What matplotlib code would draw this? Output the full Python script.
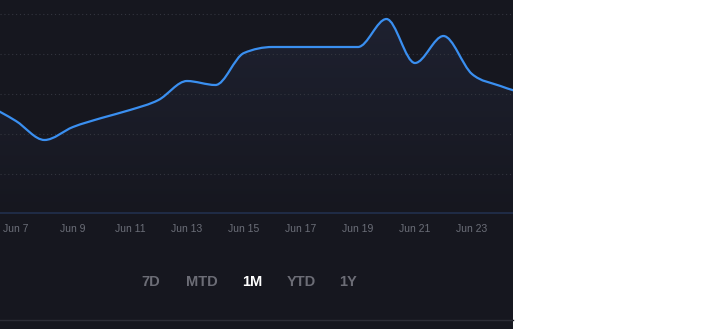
import numpy as np
import matplotlib
matplotlib.use("Agg")
import matplotlib.pyplot as plt
from matplotlib.path import Path
from matplotlib.patches import PathPatch, Rectangle
from matplotlib.colors import LinearSegmentedColormap

# daily values, Jun 6 .. Jun 25
days = np.arange(6, 26)
values = [27.25, 23.25, 18.5, 21.75, 24.0, 26.0, 28.5, 33.25, 32.25, 40.25,
          41.75, 41.75, 41.75, 41.75, 48.75, 37.75, 44.5, 35.0, 32.0, 29.75]
tick_days = [7, 9, 11, 13, 15, 17, 19, 21, 23]
tick_labels = ["Jun %d" % d for d in tick_days]
ranges = ["7D", "MTD", "1M", "YTD", "1Y"]
active = "1M"

BG = "#16171f"
LINE = "#3a8ff0"
GRID = "#33353f"
LABEL = "#6b6e78"


def monotone_tangents(x, y):
    # same slopes as d3.curveMonotoneX
    x = np.asarray(x, float)
    y = np.asarray(y, float)
    h = np.diff(x)
    s = np.diff(y) / h
    t = np.zeros_like(y)
    for i in range(1, len(y) - 1):
        p = (s[i - 1] * h[i] + s[i] * h[i - 1]) / (h[i - 1] + h[i])
        t[i] = (np.sign(s[i - 1]) + np.sign(s[i])) * min(abs(s[i - 1]), abs(s[i]), 0.5 * abs(p))
    t[0] = (3 * s[0] - t[1]) / 2
    t[-1] = (3 * s[-1] - t[-2]) / 2
    return t


def curve_path(x, y, close_to=None):
    t = monotone_tangents(x, y)
    verts = [(x[0], y[0])]
    codes = [Path.MOVETO]
    for i in range(len(x) - 1):
        h = x[i + 1] - x[i]
        verts += [(x[i] + h / 3, y[i] + h * t[i] / 3),
                  (x[i + 1] - h / 3, y[i + 1] - h * t[i + 1] / 3),
                  (x[i + 1], y[i + 1])]
        codes += [Path.CURVE4] * 3
    if close_to is not None:
        verts += [(x[-1], close_to), (x[0], close_to), (x[0], y[0])]
        codes += [Path.LINETO, Path.LINETO, Path.CLOSEPOLY]
    return Path(verts, codes)


fig = plt.figure(figsize=(7.22, 3.29), dpi=100)
fig.patch.set_facecolor("white")

W, H = 722, 329
panel_w = 513
fig.add_artist(Rectangle((0, 0), panel_w / W, 1, transform=fig.transFigure,
                         facecolor=BG, edgecolor="none", zorder=-5))

ax = fig.add_axes([0, (H - 214) / H, panel_w / W, 214 / H], zorder=2)
ax.set_facecolor(BG)
for sp in ax.spines.values():
    sp.set_visible(False)

x0, x1 = 6.44, 6.44 + panel_w / 28.5
ax.set_xlim(x0, x1)
ax.set_ylim(0, 53.5)

# soft gradient under the line
fill = PathPatch(curve_path(days, values, close_to=0), facecolor="none",
                 edgecolor="none")
ax.add_patch(fill)
grad = LinearSegmentedColormap.from_list("g", [BG, "#1e2130"])
im = ax.imshow(np.linspace(0, 1, 256).reshape(-1, 1), cmap=grad, aspect="auto",
               origin="lower", extent=[x0, x1, 0, max(values)], zorder=0.5)
im.set_clip_path(fill)

for g in [10, 20, 30, 40, 50]:
    ax.axhline(g, color=GRID, lw=0.8, ls=(0, (1, 2.5)), zorder=1)
ax.axhline(0.15, color="#22304d", lw=1.2, zorder=1)

ax.add_patch(PathPatch(curve_path(days, values), facecolor="none", edgecolor=LINE,
                       lw=1.6, zorder=3, capstyle="round"))
ax.set_xlim(x0, x1)
ax.set_ylim(0, 53.5)

ax.set_xticks(tick_days)
ax.set_xticklabels(tick_labels, family="Liberation Sans")
ax.set_yticks([])
ax.tick_params(axis="x", length=0, pad=7, labelsize=7.5, labelcolor=LABEL)

# range selector
xs = [151, 202, 252, 301, 348]
for lbl, x in zip(ranges, xs):
    on = lbl == active
    fig.text(x / W, 1 - 282 / H, lbl, ha="center", va="center", fontsize=10.5,
             fontweight="bold", color="white" if on else "#6c6d76",
             family="Liberation Sans", zorder=3)

fig.add_artist(plt.Line2D([0, panel_w / W], [1 - 320 / H] * 2,
                          transform=fig.transFigure, color="#2c2d36", lw=1))

fig.savefig("out.png", dpi=100, facecolor=fig.get_facecolor())
